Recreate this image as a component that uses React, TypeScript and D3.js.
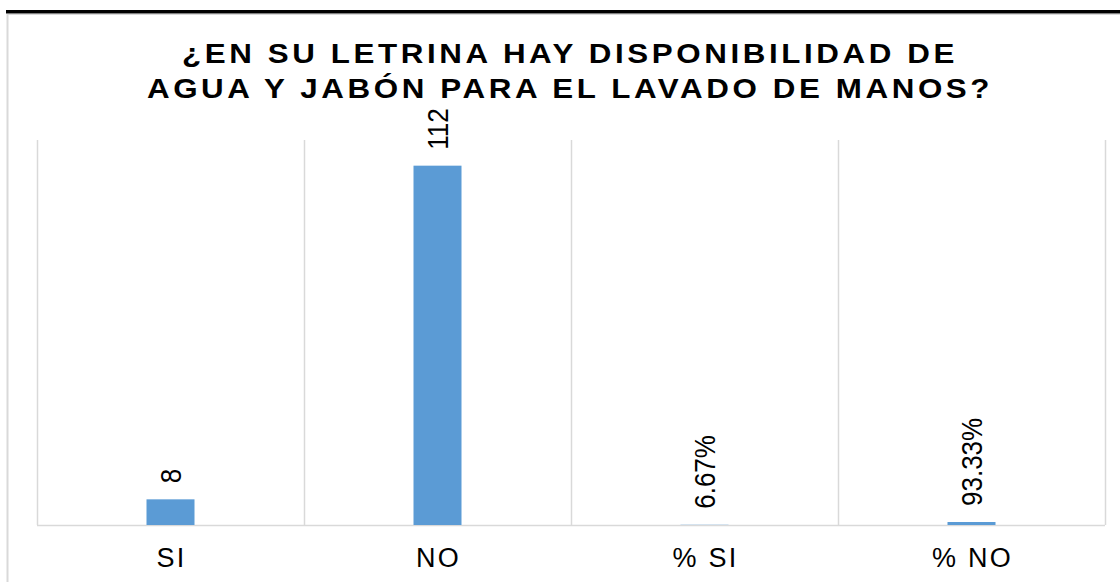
import React from "react";
import * as d3 from "d3";

const categories = ["SI", "NO", "% SI", "% NO"];
const values = [8, 112, 0.0667, 0.9333];
const labels = ["8", "112", "6.67%", "93.33%"];
const titleLines = ["¿EN SU LETRINA HAY DISPONIBILIDAD DE", "AGUA Y JABÓN PARA EL LAVADO DE MANOS?"];

export default function App() {
  const W = 1120, H = 582;
  const left = 37, right = 1105, top = 140, bottom = 525;
  const x = d3.scaleBand<string>().domain(categories).range([left, right]).paddingInner(0).paddingOuter(0);
  const y = d3.scaleLinear().domain([0, 120]).range([bottom, top]);
  const bw = 48;
  const font = "Arial, 'Liberation Sans', sans-serif";
  const sx = 1.12;
  return (
    <svg width={W} height={H} style={{ position: "absolute", left: 0, top: 0 }}>
      <rect x={0} y={0} width={W} height={H} fill="#fff" />
      <line x1={7.5} x2={7.5} y1={14} y2={H} stroke="#d9d9d9" strokeWidth={2} />
      <line x1={7} x2={W} y1={14.5} y2={14.5} stroke="#d9d9d9" strokeWidth={1} />
      <rect x={6} y={10} width={W - 6} height={3.5} fill="#000" />
      {titleLines.map((t, i) => (
        <text key={i} transform={`translate(570,${63 + i * 35}) scale(${sx},1)`} textAnchor="middle" fontFamily={font} fontWeight="bold" fontSize={28} letterSpacing={3.2} fill="#000">{t}</text>
      ))}
      {[...categories.map((c) => x(c)!), right].map((gx, i) => (
        <line key={i} x1={gx + 0.5} x2={gx + 0.5} y1={top} y2={bottom} stroke="#d9d9d9" strokeWidth={1.5} />
      ))}
      <line x1={left} x2={right} y1={bottom + 0.5} y2={bottom + 0.5} stroke="#d9d9d9" strokeWidth={1.5} />
      {categories.map((c, i) => {
        const cx = x(c)! + x.bandwidth() / 2;
        const yt = y(values[i]);
        return (
          <g key={c}>
            <rect x={cx - bw / 2} y={yt} width={bw} height={bottom - yt} fill="#5B9BD5" />
            <text transform={`translate(${cx + 10},${yt - 16}) scale(1.1,1) rotate(-90)`} fontFamily={font} fontSize={26} fill="#000">{labels[i]}</text>
            <text transform={`translate(${cx + 1},567)`} textAnchor="middle" fontFamily={font} fontSize={27} letterSpacing={2.2} fill="#000">{c}</text>
          </g>
        );
      })}
    </svg>
  );
}
